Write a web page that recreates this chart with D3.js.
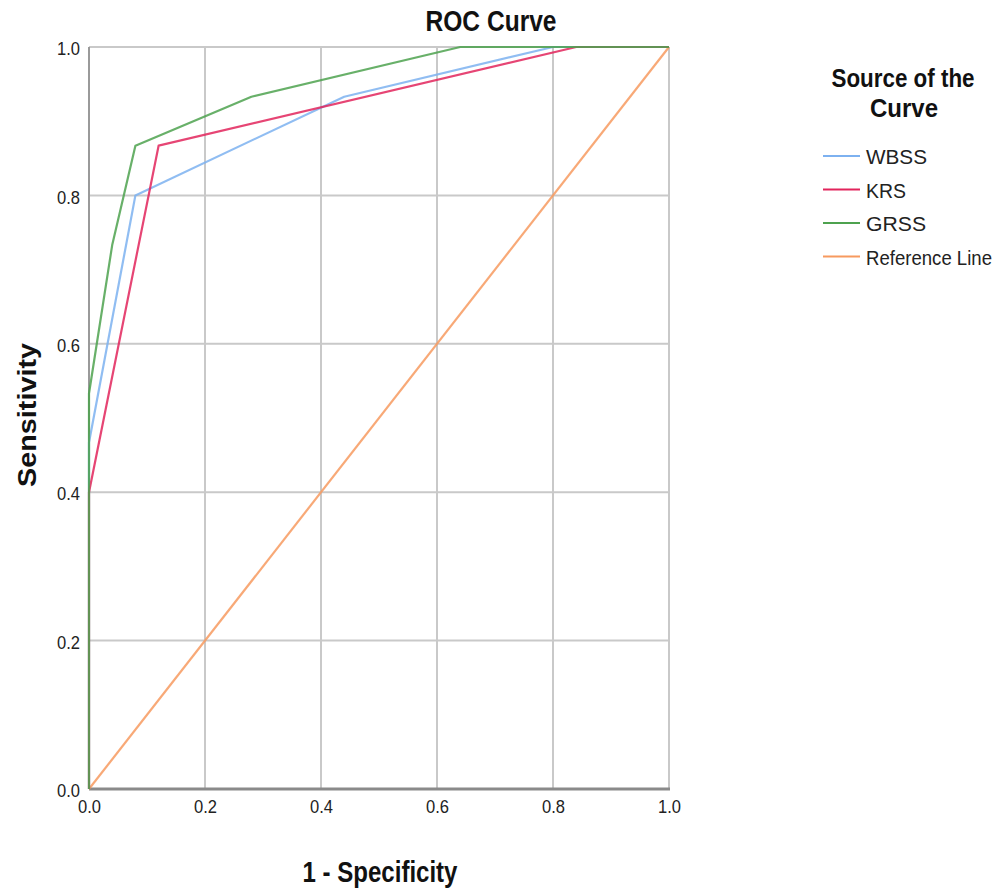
<!DOCTYPE html>
<html>
<head>
<meta charset="utf-8">
<script src="https://cdn.jsdelivr.net/npm/d3@7"></script>
<style>
  html, body { margin: 0; padding: 0; background: #ffffff; }
  svg { display: block; font-family: "Liberation Sans", Arial, sans-serif; }
</style>
</head>
<body>
<svg id="chart" width="1005" height="890"></svg>
<script>
// ---- data ----
const seriesNames = ["WBSS", "KRS", "GRSS", "Reference Line"];
const wbssFpr = [0, 0, 0.08, 0.44, 0.80, 1.0];
const wbssTpr = [0, 0.467, 0.80, 0.933, 1.0, 1.0];
const krsFpr  = [0, 0, 0.12, 0.84, 1.0];
const krsTpr  = [0, 0.40, 0.867, 1.0, 1.0];
const grssFpr = [0, 0, 0.04, 0.08, 0.28, 0.64, 1.0];
const grssTpr = [0, 0.533, 0.733, 0.867, 0.933, 1.0, 1.0];
const refFpr  = [0, 1];
const refTpr  = [0, 1];
const tickValues = [0, 0.2, 0.4, 0.6, 0.8, 1.0];
const tickLabels = ["0.0", "0.2", "0.4", "0.6", "0.8", "1.0"];
const colors = ["#7db1f0", "#e2245c", "#4ea24f", "#f79a5f"];

// ---- layout ----
const svg = d3.select("#chart");
const pL = 89, pR = 669, pT = 47, pB = 789;
const x = d3.scaleLinear().domain([0, 1]).range([pL, pR]);
const y = d3.scaleLinear().domain([0, 1]).range([pB, pT]);

// gridlines
const grid = svg.append("g");
grid.selectAll("line.v").data(tickValues.slice(1)).join("line").attr("class", "v")
  .attr("x1", d => x(d)).attr("x2", d => x(d))
  .attr("y1", pT).attr("y2", pB)
  .attr("stroke", "#c9c9c9").attr("stroke-width", 2);
grid.selectAll("line.h").data(tickValues.slice(1)).join("line").attr("class", "h")
  .attr("x1", pL).attr("x2", pR)
  .attr("y1", d => y(d)).attr("y2", d => y(d))
  .attr("stroke", "#c9c9c9").attr("stroke-width", 2);

// axes lines
svg.append("line").attr("x1", pL).attr("x2", pL).attr("y1", pT).attr("y2", pB)
  .attr("stroke", "#9a9a9a").attr("stroke-width", 2);
svg.append("line").attr("x1", pL).attr("x2", pR + 1).attr("y1", pB).attr("y2", pB)
  .attr("stroke", "#8a8a8a").attr("stroke-width", 3);

// tick labels via d3 axes
const xAxis = d3.axisBottom(x).tickValues(tickValues).tickFormat((d, i) => tickLabels[i]).tickSize(0).tickPadding(0);
const gx = svg.append("g").attr("transform", `translate(0,${pB + 17})`).call(xAxis);
gx.select(".domain").remove();
gx.selectAll(".tick text").attr("font-size", 19).attr("fill", "#222").attr("dy", "0.35em")
  .attr("font-family", "Liberation Sans, Arial, sans-serif")
  .attr("textLength", 23).attr("lengthAdjust", "spacingAndGlyphs");

const yAxis = d3.axisLeft(y).tickValues(tickValues).tickFormat((d, i) => tickLabels[i]).tickSize(0).tickPadding(9);
const gy = svg.append("g").attr("transform", `translate(${pL},0)`).call(yAxis);
gy.select(".domain").remove();
gy.selectAll(".tick text").attr("font-size", 19).attr("fill", "#222")
  .attr("font-family", "Liberation Sans, Arial, sans-serif")
  .attr("dy", "0.4em")
  .attr("textLength", 23).attr("lengthAdjust", "spacingAndGlyphs");

// curves
const lineGen = d3.line().x(d => x(d[0])).y(d => y(d[1]));
const zip = (a, b) => a.map((v, i) => [v, b[i]]);
const curves = [
  { name: seriesNames[3], pts: zip(refFpr, refTpr), color: colors[3] },
  { name: seriesNames[0], pts: zip(wbssFpr, wbssTpr), color: colors[0] },
  { name: seriesNames[1], pts: zip(krsFpr, krsTpr), color: colors[1] },
  { name: seriesNames[2], pts: zip(grssFpr, grssTpr), color: colors[2] }
];
svg.append("g").selectAll("path").data(curves).join("path")
  .attr("d", d => lineGen(d.pts))
  .attr("fill", "none")
  .attr("stroke", d => d.color)
  .attr("stroke-width", 2.2)
  .attr("stroke-opacity", 0.85)
  .attr("stroke-linejoin", "round");

// titles
svg.append("text").attr("x", 491).attr("y", 31).attr("text-anchor", "middle")
  .attr("font-size", 29).attr("font-weight", "bold").attr("fill", "#111")
  .attr("textLength", 131).attr("lengthAdjust", "spacingAndGlyphs")
  .text("ROC Curve");
svg.append("text").attr("x", 380).attr("y", 882).attr("text-anchor", "middle")
  .attr("font-size", 29).attr("font-weight", "bold").attr("fill", "#111")
  .attr("textLength", 155).attr("lengthAdjust", "spacingAndGlyphs")
  .text("1 - Specificity");
svg.append("g").attr("transform", "translate(36,415) rotate(-90) scale(1,0.9)")
  .append("text").attr("x", 0).attr("y", 0).attr("text-anchor", "middle")
  .attr("font-size", 29).attr("font-weight", "bold").attr("fill", "#111")
  .attr("textLength", 144).attr("lengthAdjust", "spacingAndGlyphs")
  .text("Sensitivity");

// legend
const lg = svg.append("g");
lg.append("text").attr("x", 903).attr("y", 87).attr("text-anchor", "middle")
  .attr("font-size", 25).attr("font-weight", "bold").attr("fill", "#111")
  .attr("textLength", 143).attr("lengthAdjust", "spacingAndGlyphs")
  .text("Source of the");
lg.append("text").attr("x", 904).attr("y", 117).attr("text-anchor", "middle")
  .attr("font-size", 25).attr("font-weight", "bold").attr("fill", "#111")
  .attr("textLength", 68).attr("lengthAdjust", "spacingAndGlyphs")
  .text("Curve");
const legendOrder = [0, 1, 2, 3];
const legendWidths = [61, 40, 60, 126];
const items = lg.selectAll("g.item").data(legendOrder).join("g").attr("class", "item")
  .attr("transform", (d, i) => `translate(0,${156 + i * 33.5})`);
items.append("line").attr("x1", 823).attr("x2", 860).attr("y1", 0).attr("y2", 0)
  .attr("stroke", d => colors[d]).attr("stroke-width", 2.2);
items.append("text").attr("x", 866).attr("y", 8)
  .attr("font-size", 19.5).attr("fill", "#222")
  .attr("textLength", d => legendWidths[d]).attr("lengthAdjust", "spacingAndGlyphs")
  .text(d => seriesNames[d]);
</script>
</body>
</html>
